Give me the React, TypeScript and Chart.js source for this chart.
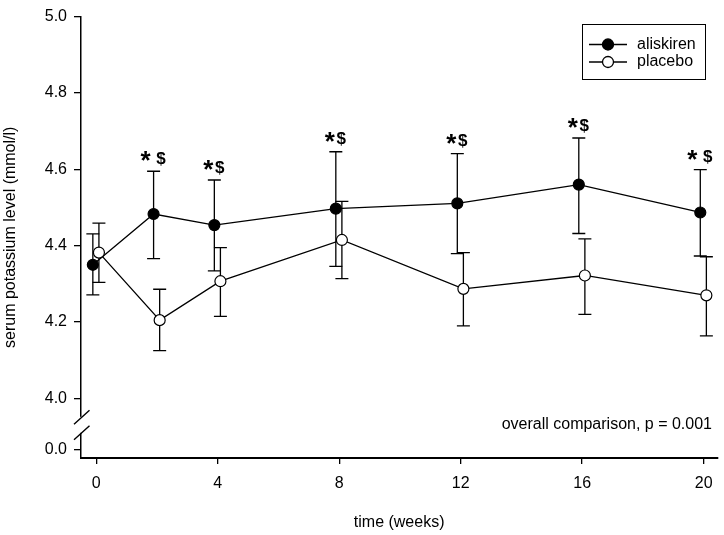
import { useEffect, useRef } from 'react';
import { Chart, registerables } from 'chart.js';

Chart.register(...registerables);

// ---- data ----
const weeks = [0, 2, 4, 8, 12, 16, 20];
const aliskirenMean = [4.350, 4.483, 4.454, 4.497, 4.511, 4.560, 4.487];
const aliskirenUpper = [4.431, 4.595, 4.572, 4.646, 4.641, 4.682, 4.599];
const aliskirenLower = [4.271, 4.366, 4.334, 4.346, 4.379, 4.432, 4.373];
const placeboMean = [4.382, 4.205, 4.307, 4.415, 4.287, 4.322, 4.270];
const placeboUpper = [4.459, 4.286, 4.395, 4.516, 4.382, 4.418, 4.371];
const placeboLower = [4.304, 4.125, 4.215, 4.314, 4.190, 4.220, 4.164];
const significance = ['', '* $', '*$', '*$', '*$', '*$', '* $'];
const xTickValues = [0, 4, 8, 12, 16, 20];
const yTickValues = [5.0, 4.8, 4.6, 4.4, 4.2, 4.0];
const yBreakLabelValue = 0.0;
const seriesNames = ['aliskiren', 'placebo'];
const xTitle = 'time (weeks)';
const yTitle = 'serum potassium level (mmol/l)';
const noteText = 'overall comparison, p = 0.001';

// horizontal jitter so the two groups do not overlap
const ALI_SHIFT = -0.11;
const PLA_SHIFT = 0.09;
// plotted position of the broken-axis "0.0" tick and the axis bottom
const BREAK_POS = 3.867;
const Y_MIN = 3.844;

const FONT = '"Liberation Sans", Arial, Helvetica, sans-serif';

const overlayPlugin = {
  id: 'overlay',
  beforeDatasetsDraw(chart: any) {
    const { ctx } = chart;
    const xs = chart.scales.x;
    const ys = chart.scales.y;
    const drawBars = (shift: number, lo: number[], hi: number[]) => {
      ctx.save();
      ctx.strokeStyle = '#000';
      ctx.lineWidth = 1.3;
      weeks.forEach((w, i) => {
        const x = xs.getPixelForValue(w + shift);
        const yl = ys.getPixelForValue(lo[i]);
        const yh = ys.getPixelForValue(hi[i]);
        ctx.beginPath();
        ctx.moveTo(x, yl);
        ctx.lineTo(x, yh);
        ctx.moveTo(x - 6.5, yl);
        ctx.lineTo(x + 6.5, yl);
        ctx.moveTo(x - 6.5, yh);
        ctx.lineTo(x + 6.5, yh);
        ctx.stroke();
      });
      ctx.restore();
    };
    drawBars(ALI_SHIFT, aliskirenLower, aliskirenUpper);
    drawBars(PLA_SHIFT, placeboLower, placeboUpper);
  },
  afterDatasetsDraw(chart: any) {
    const { ctx } = chart;
    const xs = chart.scales.x;
    const ys = chart.scales.y;
    ctx.save();
    ctx.fillStyle = '#000';
    ctx.textAlign = 'center';
    ctx.textBaseline = 'alphabetic';
    weeks.forEach((w, i) => {
      const lab = significance[i];
      if (!lab) return;
      const x = xs.getPixelForValue(w + ALI_SHIFT);
      const cy = ys.getPixelForValue(aliskirenUpper[i]) - 13;
      const spaced = lab.includes(' ');
      ctx.font = `bold 26px ${FONT}`;
      ctx.fillText('*', x + (spaced ? -8 : -6), cy + 11);
      ctx.font = `bold 17px ${FONT}`;
      ctx.fillText('$', x + (spaced ? 7.5 : 5.5), cy + 5.5);
    });
    ctx.restore();
  },
  afterDraw(chart: any) {
    const { ctx, chartArea } = chart;
    const ys = chart.scales.y;
    ctx.save();
    // axis break
    const ax = chartArea.left;
    const y4 = ys.getPixelForValue(4.0);
    const y0 = ys.getPixelForValue(BREAK_POS);
    const mid = (y4 + y0) / 2 + 1;
    ctx.fillStyle = '#fff';
    ctx.fillRect(ax - 2, mid - 8, 4, 16);
    ctx.strokeStyle = '#000';
    ctx.lineWidth = 1.4;
    ctx.beginPath();
    ctx.moveTo(ax - 7, mid - 0.5);
    ctx.lineTo(ax + 8.5, mid - 14.5);
    ctx.moveTo(ax - 7, mid + 15);
    ctx.lineTo(ax + 8.5, mid + 1);
    ctx.stroke();

    // legend
    const lx = 582, ly = 24, lw = 123, lh = 55;
    ctx.lineWidth = 1;
    ctx.strokeStyle = '#000';
    ctx.strokeRect(lx + 0.5, ly + 0.5, lw, lh);
    const items = [
      { name: seriesNames[0], fill: '#000', y: 44.5 },
      { name: seriesNames[1], fill: '#fff', y: 62 },
    ];
    items.forEach((it) => {
      ctx.beginPath();
      ctx.lineWidth = 1.3;
      ctx.moveTo(589, it.y);
      ctx.lineTo(627, it.y);
      ctx.stroke();
      ctx.beginPath();
      ctx.arc(608, it.y, 5.5, 0, Math.PI * 2);
      ctx.fillStyle = it.fill;
      ctx.fill();
      ctx.stroke();
      ctx.fillStyle = '#000';
      ctx.font = `16px ${FONT}`;
      ctx.textAlign = 'left';
      ctx.textBaseline = 'middle';
      ctx.fillText(it.name, 637, it.y);
    });

    // note
    ctx.font = `16px ${FONT}`;
    ctx.textAlign = 'right';
    ctx.textBaseline = 'middle';
    ctx.fillText(noteText, 712, 425);

    // axis titles
    ctx.textAlign = 'center';
    ctx.fillText(xTitle, (chartArea.left + chartArea.right) / 2, 523);
    ctx.translate(11, (chartArea.top + chartArea.bottom) / 2);
    ctx.rotate(-Math.PI / 2);
    ctx.fillText(yTitle, 0, 0);
    ctx.restore();
  },
};

export default function App() {
  const ref = useRef<HTMLCanvasElement | null>(null);

  useEffect(() => {
    document.body.style.margin = '0';
    if (!ref.current) return;
    Chart.defaults.font.family = FONT;
    Chart.defaults.font.size = 16;
    Chart.defaults.color = '#000';

    const chart = new Chart(ref.current, {
      type: 'line',
      data: {
        datasets: [
          {
            label: seriesNames[0],
            data: weeks.map((w, i) => ({ x: w + ALI_SHIFT, y: aliskirenMean[i] })),
            borderColor: '#000',
            borderWidth: 1.3,
            backgroundColor: '#000',
            pointBackgroundColor: '#000',
            pointBorderColor: '#000',
            pointBorderWidth: 1.2,
            pointRadius: 5.5,
            tension: 0,
            order: 2,
          },
          {
            label: seriesNames[1],
            data: weeks.map((w, i) => ({ x: w + PLA_SHIFT, y: placeboMean[i] })),
            borderColor: '#000',
            borderWidth: 1.3,
            backgroundColor: '#fff',
            pointBackgroundColor: '#fff',
            pointBorderColor: '#000',
            pointBorderWidth: 1.2,
            pointRadius: 5.5,
            tension: 0,
            order: 1,
          },
        ],
      },
      options: {
        animation: false,
        responsive: true,
        maintainAspectRatio: false,
        layout: { padding: { top: 11, right: 6, left: 0, bottom: 0 } },
        plugins: {
          legend: { display: false },
          tooltip: { enabled: false },
        },
        scales: {
          x: {
            type: 'linear',
            min: -0.5,
            max: 20.45,
            afterBuildTicks: (scale: any) => {
              scale.ticks = xTickValues.map((v) => ({ value: v }));
            },
            afterFit: (scale: any) => {
              scale.height = 77;
            },
            ticks: {
              padding: 10,
              font: { size: 16 },
              color: '#000',
              autoSkip: false,
              maxRotation: 0,
              callback: (v: any) => String(v),
            },
            grid: {
              display: true,
              drawOnChartArea: false,
              drawTicks: true,
              tickLength: 6,
              color: '#000',
              lineWidth: 1.3,
            },
            border: { display: true, color: '#000', width: 2 },
          },
          y: {
            type: 'linear',
            min: Y_MIN,
            max: 5.0,
            afterBuildTicks: (scale: any) => {
              scale.ticks = [...yTickValues, BREAK_POS].map((v) => ({ value: v }));
            },
            afterFit: (scale: any) => {
              scale.width = 81;
            },
            ticks: {
              padding: 7,
              font: { size: 16 },
              color: '#000',
              autoSkip: false,
              callback: (v: any) =>
                Number(v) < 4 ? yBreakLabelValue.toFixed(1) : Number(v).toFixed(1),
            },
            grid: {
              display: true,
              drawOnChartArea: false,
              drawTicks: true,
              tickLength: 7,
              color: '#000',
              lineWidth: 1.3,
            },
            border: { display: true, color: '#000', width: 1.5 },
          },
        },
      },
      plugins: [overlayPlugin],
    });
    return () => chart.destroy();
  }, []);

  return (
    <div style={{ position: 'relative', width: 724, height: 535 }}>
      <canvas ref={ref} />
    </div>
  );
}
